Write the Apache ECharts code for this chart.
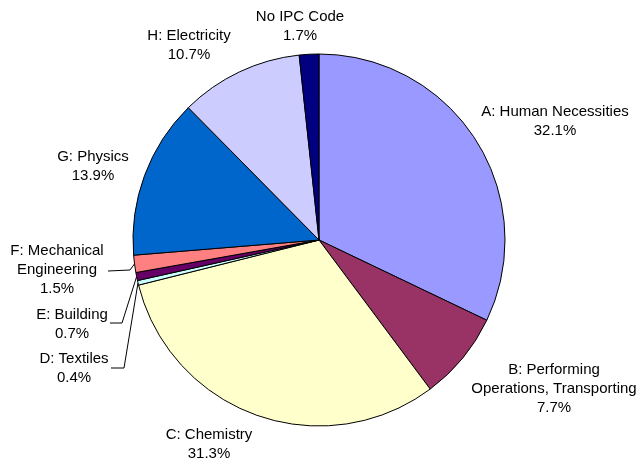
<!DOCTYPE html>
<html>
<head>
<meta charset="utf-8">
<script src="https://cdn.jsdelivr.net/npm/echarts@6/dist/echarts.min.js"></script>
<style>
  html, body { margin: 0; padding: 0; background: #fff; }
  #chart { width: 641px; height: 460px; }
</style>
</head>
<body>
<div id="chart"></div>
<script>
// IPC sections and their share of documents (%)
const categories = [
  'A: Human Necessities',
  'B: Performing\nOperations, Transporting',
  'C: Chemistry',
  'D: Textiles',
  'E: Building',
  'F: Mechanical\nEngineering',
  'G: Physics',
  'H: Electricity',
  'No IPC Code'
];
const shares = [32.1, 7.7, 31.3, 0.4, 0.7, 1.5, 13.9, 10.7, 1.7];
const colors = ['#9999FF', '#993366', '#FFFFCC', '#CCFFFF', '#660066',
                '#FF8080', '#0066CC', '#CCCCFF', '#000080'];

// Pie geometry
const CX = 319, CY = 240, R = 186;

// Label block centres
const labelAt = [
  [555, 121], [554, 389], [209, 444], [74, 368], [72, 324],
  [57, 270], [93, 166], [189, 45.5], [300, 26.5]
];
// Leader line bends and ends for the three small slices
const leaders = {
  3: [[124, 368], [111, 368]],
  4: [[122, 323], [110, 323]],
  5: [[130, 270], [108, 271]]
};

// mid-angle edge point of each slice, clockwise from 12 o'clock
const total = shares.reduce((a, b) => a + b, 0);
function edgePoint(i) {
  let before = 0;
  for (let k = 0; k < i; k++) before += shares[k];
  const a = (before + shares[i] / 2) / total * 2 * Math.PI;
  return [CX + R * Math.sin(a), CY - R * Math.cos(a)];
}

const chart = echarts.init(document.getElementById('chart'), null, { renderer: 'canvas' });
chart.setOption({
  animation: false,
  backgroundColor: '#ffffff',
  series: [{
    type: 'pie',
    center: [CX, CY],
    radius: [0, R],
    startAngle: 90,
    clockwise: true,
    avoidLabelOverlap: false,
    itemStyle: { borderColor: '#000', borderWidth: 1 },
    label: {
      show: true,
      position: 'outside',
      fontFamily: '"Liberation Sans", Arial, sans-serif',
      fontSize: 15,
      lineHeight: 19,
      color: '#000',
      align: 'center',
      formatter: p => p.name + '\n' + p.value.toFixed(1) + '%'
    },
    labelLine: { show: false, lineStyle: { color: '#000', width: 1 } },
    labelLayout: function (params) {
      const i = params.dataIndex;
      const res = {
        x: labelAt[i][0],
        y: labelAt[i][1],
        align: 'center',
        verticalAlign: 'middle'
      };
      if (leaders[i]) {
        res.labelLinePoints = [edgePoint(i), leaders[i][0], leaders[i][1]];
      }
      return res;
    },
    emphasis: { disabled: true },
    data: categories.map((name, i) => ({
      name: name,
      value: shares[i],
      itemStyle: { color: colors[i] },
      labelLine: { show: !!leaders[i] }
    }))
  }]
});
</script>
</body>
</html>
